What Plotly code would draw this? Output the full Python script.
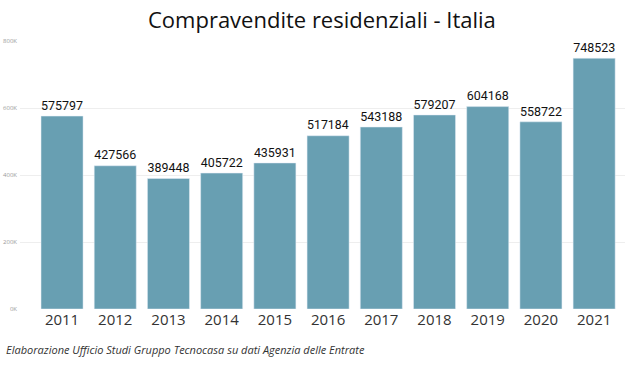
import plotly.graph_objects as go

years = ["2011", "2012", "2013", "2014", "2015", "2016", "2017", "2018", "2019", "2020", "2021"]
values = [575797, 427566, 389448, 405722, 435931, 517184, 543188, 579207, 604168, 558722, 748523]
y_ticks = [0, 200000, 400000, 600000, 800000]
y_tick_text = ["0K", "200K", "400K", "600K", "800K"]

fig = go.Figure(go.Bar(
    x=list(range(len(years))), y=values,
    marker_color="#689FB2",
    text=[str(v) for v in values], textposition="outside",
    textfont=dict(family="Roboto", size=15, color="#111111"),
    cliponaxis=False,
))
fig.update_layout(
    width=640, height=365,
    margin=dict(l=20, r=15, t=41, b=56, autoexpand=False),
    paper_bgcolor="white", plot_bgcolor="white",
    bargap=0.21,
    showlegend=False,
    title=dict(text="Compravendite residenziali - Italia", x=0.503, xanchor="center",
               xref="container", y=0.945, yref="container", yanchor="middle",
               font=dict(family="Open Sans", size=22, color="#111111")),
    xaxis=dict(tickvals=list(range(len(years))), ticktext=years, range=[-0.79, 10.58],
               tickfont=dict(family="Open Sans", size=15, color="#333333"),
               showgrid=False, zeroline=False, showline=False, automargin=False),
    yaxis=dict(range=[0, 800000], tickvals=y_ticks, ticktext=y_tick_text,
               tickfont=dict(family="Open Sans", size=6, color="#999999"),
               gridcolor="#EEEEEE", zeroline=False, showline=False, automargin=False,
               ticklabelstandoff=2),
    annotations=[dict(text="<i>Elaborazione Ufficio Studi Gruppo Tecnocasa su dati Agenzia delle Entrate</i>",
                      xref="paper", yref="paper", x=-0.026, y=-0.15, xanchor="left", yanchor="middle",
                      showarrow=False,
                      font=dict(family="Open Sans", size=11, color="#333333"))],
)
fig.write_html("out.html", config={"displayModeBar": False},
               post_script="document.body.style.margin='0';")
